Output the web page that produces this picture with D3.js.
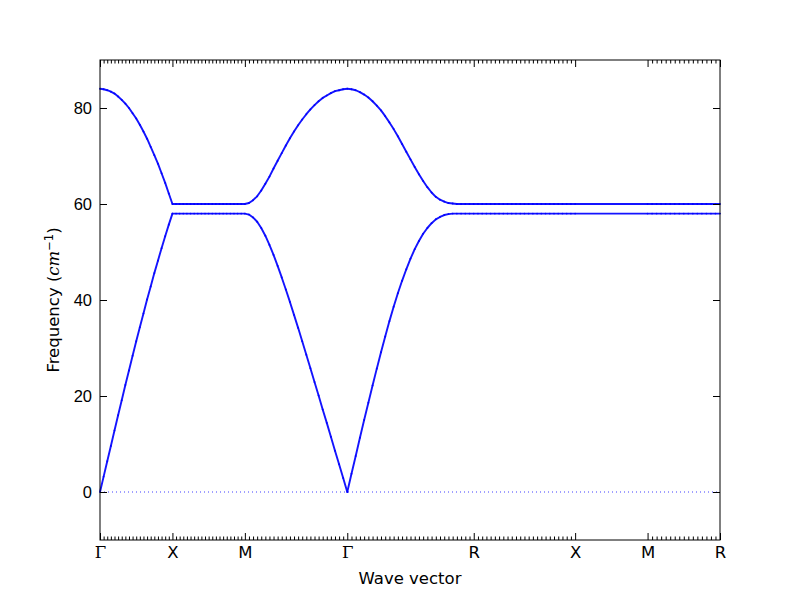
<!DOCTYPE html>
<html><head><meta charset="utf-8">
<script src="https://cdn.jsdelivr.net/npm/d3@7"></script>
<style>body{margin:0;background:#fff}svg{display:block}</style>
</head><body><svg id="c" width="800" height="600"></svg>
<script>
// ---- data ----
const pointLabels = ["Γ","X","M","Γ","R","X","M","R"];
const pointPositions = [0, 1, 2, 3.414, 5.16, 6.56, 7.56, 8.56];
const yTicks = [0, 20, 40, 60, 80];
const yDomain = [-10, 90];

// upper (optical) branch, one array per path segment
const upperGX = [84.0,83.9,83.7,83.4,83.0,82.4,81.7,80.9,80.0,78.9,77.8,76.5,75.1,73.6,71.9,70.2,68.4,66.4,64.4,62.2,60.0];
const upperXM = [60.0,60.0,60.0,60.0,60.0,60.0,60.0,60.0,60.0,60.0,60.0,60.0,60.0,60.0,60.0,60.0,60.0,60.0,60.0,60.0,60.0];
const upperMG = [60.0,60.2,60.8,61.6,62.8,64.2,65.7,67.4,69.0,70.6,72.2,73.7,75.1,76.4,77.6,78.7,79.7,80.6,81.4,82.1,82.6,83.1,83.5,83.7,83.9,84.0];
const upperGR = [84.0,83.9,83.7,83.3,82.8,82.2,81.4,80.5,79.5,78.3,77.0,75.6,74.1,72.5,70.9,69.3,67.7,66.2,64.8,63.5,62.4,61.5,60.9,60.5,60.2,60.1,60.0,60.0,60.0,60.0,60.0];
const upperRX = [60.0,60.0,60.0,60.0,60.0,60.0,60.0,60.0,60.0,60.0,60.0,60.0,60.0,60.0,60.0,60.0,60.0,60.0,60.0,60.0,60.0,60.0,60.0,60.0,60.0];
const upperXM2 = [60.0,60.0];
const upperMR = [60.0,60.0,60.0,60.0,60.0,60.0,60.0,60.0,60.0,60.0,60.0,60.0,60.0,60.0,60.0,60.0,60.0];

// lower (acoustic) branch
const lowerGX = [0.0,3.2,6.4,9.6,12.8,16.0,19.1,22.3,25.3,28.4,31.4,34.3,37.2,40.1,42.8,45.6,48.2,50.8,53.3,55.7,58.0];
const lowerXM = [58.0,58.0,58.0,58.0,58.0,58.0,58.0,58.0,58.0,58.0,58.0,58.0,58.0,58.0,58.0,58.0,58.0,58.0,58.0,58.0,58.0];
const lowerMG = [58.0,57.8,57.2,56.3,55.0,53.4,51.5,49.4,47.1,44.7,42.2,39.6,36.9,34.2,31.4,28.6,25.8,22.9,20.1,17.2,14.4,11.5,8.6,5.8,2.9,0.0];
const lowerGR = [0.0,3.8,7.5,11.3,15.0,18.6,22.2,25.7,29.1,32.4,35.6,38.6,41.4,44.0,46.4,48.6,50.6,52.3,53.8,55.0,56.0,56.8,57.3,57.7,57.9,58.0,58.0,58.0,58.0,58.0,58.0];
const lowerRX = [58.0,58.0,58.0,58.0,58.0,58.0,58.0,58.0,58.0,58.0,58.0,58.0,58.0,58.0,58.0,58.0,58.0,58.0,58.0,58.0,58.0,58.0,58.0,58.0,58.0];
const lowerXM2 = [58.0,58.0];
const lowerMR = [58.0,58.0,58.0,58.0,58.0,58.0,58.0,58.0,58.0,58.0,58.0,58.0,58.0,58.0,58.0,58.0,58.0];

const upperSegments = [upperGX, upperXM, upperMG, upperGR, upperRX, upperXM2, upperMR];
const lowerSegments = [lowerGX, lowerXM, lowerMG, lowerGR, lowerRX, lowerXM2, lowerMR];

// ---- layout ----
const svg = d3.select("#c");
const L = 100, R = 720, T = 60, B = 540;
const x = d3.scaleLinear().domain([pointPositions[0], pointPositions[pointPositions.length-1]]).range([L, R]);
const y = d3.scaleLinear().domain(yDomain).range([B, T]);
const font = "'DejaVu Sans', 'Bitstream Vera Sans', sans-serif";

// sample positions along each segment
function segPoints(vals, s) {
  const idx = d3.scaleLinear().domain([0, vals.length - 1]).range([pointPositions[s], pointPositions[s+1]]);
  return vals.map((v, i) => [idx(i), v]);
}
const minorPos = [];
upperSegments.forEach((vals, s) => {
  segPoints(vals, s).forEach((p, i) => { if (i > 0 && i < vals.length - 1) minorPos.push(p[0]); });
});

// zero dotted line
svg.append("line")
  .attr("x1", x(pointPositions[0])).attr("x2", x(pointPositions[pointPositions.length-1]))
  .attr("y1", y(0)).attr("y2", y(0))
  .attr("stroke", "#0000ff").attr("stroke-opacity", 0.75)
  .attr("stroke-width", 1).attr("stroke-dasharray", "1,3");

// bands
const line = d3.line().x(d => x(d[0])).y(d => y(d[1]));
const bandG = svg.append("g");
[upperSegments, lowerSegments].forEach(segs => {
  segs.forEach((vals, s) => {
    const pts = segPoints(vals, s);
    for (let i = 0; i < pts.length - 1; i++) {
      bandG.append("path").attr("d", line([pts[i], pts[i+1]]))
        .attr("fill", "none").attr("stroke", "#0000ff")
        .attr("stroke-width", 1.9).attr("stroke-linecap", "round")
        .attr("stroke-opacity", 0.92);
    }
  });
});

// axes
const axG = svg.append("g").attr("font-family", font);
function styleAxis(g) {
  g.select(".domain").remove();
  g.selectAll("line").attr("stroke", "#000").attr("stroke-width", 1);
}
// minor x ticks bottom & top
axG.append("g").attr("transform", `translate(0,${B})`)
  .call(d3.axisBottom(x).tickValues(minorPos).tickFormat("").tickSize(-3.5)).call(styleAxis);
axG.append("g").attr("transform", `translate(0,${T})`)
  .call(d3.axisTop(x).tickValues(minorPos).tickFormat("").tickSize(-3.5)).call(styleAxis);
// major x ticks
const xb = axG.append("g").attr("transform", `translate(0,${B})`)
  .call(d3.axisBottom(x).tickValues(pointPositions).tickFormat((d, i) => pointLabels[i]).tickSize(-7).tickPadding(6))
  .call(styleAxis);
xb.selectAll("text").attr("font-size", "16.5px").attr("fill", "#000")
  .attr("font-family", (d, i) => pointLabels[i] === "Γ" ? "'DejaVu Serif', serif" : font);
axG.append("g").attr("transform", `translate(0,${T})`)
  .call(d3.axisTop(x).tickValues(pointPositions).tickFormat("").tickSize(-7)).call(styleAxis);
// y ticks
const yl = axG.append("g").attr("transform", `translate(${L},0)`)
  .call(d3.axisLeft(y).tickValues(yTicks).tickFormat(d3.format("d")).tickSize(-7).tickPadding(8))
  .call(styleAxis);
yl.selectAll("text").attr("font-size", "16.5px").attr("fill", "#000");
axG.append("g").attr("transform", `translate(${R},0)`)
  .call(d3.axisRight(y).tickValues(yTicks).tickFormat("").tickSize(-7)).call(styleAxis);

// frame
svg.append("rect").attr("x", L).attr("y", T).attr("width", R - L).attr("height", B - T)
  .attr("fill", "none").attr("stroke", "#000").attr("stroke-width", 1);

// axis labels
svg.append("text").attr("x", (L + R) / 2).attr("y", 584)
  .attr("text-anchor", "middle").attr("font-family", font).attr("font-size", "16.5px")
  .text("Wave vector");
const yt = svg.append("text").attr("transform", `translate(59,${(T + B) / 2}) rotate(-90)`)
  .attr("text-anchor", "middle").attr("font-family", font).attr("font-size", "16.5px");
yt.append("tspan").text("Frequency (");
yt.append("tspan").attr("font-style", "italic").attr("font-family", "'DejaVu Serif', serif").text("cm");
yt.append("tspan").attr("font-size", "11.5px").attr("dy", "-6").text("−1");
yt.append("tspan").attr("dy", "6").text(")");
</script></body></html>
